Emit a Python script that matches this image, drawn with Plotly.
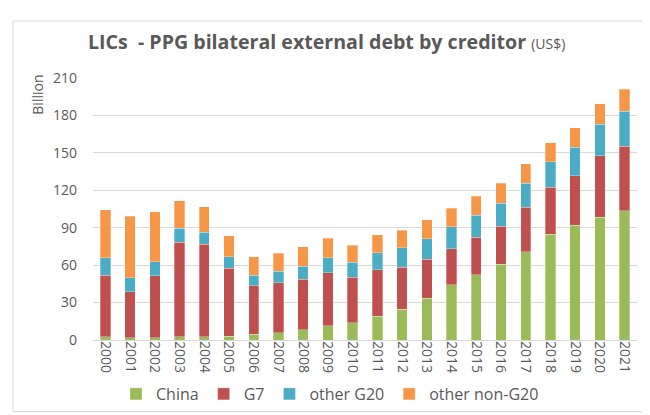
import plotly.graph_objects as go

years = [str(y) for y in range(2000, 2022)]
china = [2.6, 2, 2, 2.6, 2.6, 3.1, 4.7, 6, 8.4, 11.5, 13.9, 18.9, 24.7, 33.6, 44.4, 52.5, 60.6, 70.6, 84.8, 91.9, 98.2, 103.7]
g7 = [49.4, 36.6, 49.4, 75.9, 74.3, 54.6, 38.6, 39.7, 40.4, 42.5, 36.2, 37.5, 33.6, 31, 28.6, 29.9, 30.5, 35.7, 37.5, 39.9, 49.3, 51.4]
other_g20 = [14, 11.4, 11.3, 11, 9.5, 9, 8.7, 9.4, 10.2, 11.9, 12.1, 13.4, 15.7, 16.5, 17.6, 17.6, 18.6, 19.2, 20.7, 22.8, 25.5, 28.1]
other_non_g20 = [38.5, 49, 40.2, 22, 20.6, 17, 14.7, 14.5, 15.8, 15.7, 13.9, 14.5, 13.9, 15.2, 15.2, 15.2, 15.8, 15.7, 15.3, 15.7, 16.5, 17.6]

series = [
    ("China", china, "#9BBB59"),
    ("G7", g7, "#C0504D"),
    ("other G20", other_g20, "#4BACC6"),
    ("other non-G20", other_non_g20, "#F79646"),
]

FONT = "'Open Sans', Lato, sans-serif"
GREY = "#595959"

fig = go.Figure()
for name, vals, col in series:
    fig.add_trace(go.Bar(x=years, y=vals, name=name,
                         marker=dict(color=col, line=dict(color="rgba(255,255,255,0.6)", width=0.5))))

L, R, T, B = 85, 21, 70, 78
W, H = 650, 415
pw, ph = W - L - R, H - T - B

def px_x(x):
    return (x - L) / pw

def px_y(y):
    return (H - B - y) / ph

fig.update_layout(
    width=W, height=H,
    barmode="stack", bargap=0.58,
    margin=dict(l=L, r=R, t=T, b=B),
    paper_bgcolor="white", plot_bgcolor="white",
    font=dict(family=FONT, color=GREY, size=13),
    showlegend=True,
    legend=dict(orientation="h", x=px_x(322), xanchor="center", y=px_y(392), yanchor="middle",
                font=dict(size=16, color=GREY), traceorder="normal", itemwidth=30),
    xaxis=dict(type="category", tickangle=90, showgrid=False, showline=False,
               ticks="", tickfont=dict(size=14, color=GREY)),
    yaxis=dict(range=[0, 210], dtick=30, tick0=0, showgrid=True, gridcolor="#d9d9d9",
               gridwidth=1, zeroline=True, zerolinecolor="#d9d9d9", zerolinewidth=1,
               tickfont=dict(size=14, color=GREY), ticks="", ticklabelstandoff=15),
    shapes=[dict(type="rect", xref="paper", yref="paper",
                 x0=px_x(5), x1=px_x(641), y0=px_y(410), y1=px_y(12),
                 line=dict(color="#d9d9d9", width=1), fillcolor="rgba(0,0,0,0)", layer="below")],
    annotations=[
        dict(text="<b>LICs  - PPG bilateral external debt by creditor</b> <span style='font-size:14px'>(US$)</span>",
             xref="paper", yref="paper", x=px_x(78), y=px_y(33), xanchor="left", yanchor="middle",
             showarrow=False, font=dict(size=19.6, color=GREY, family=FONT)),
        dict(text="Billion", xref="paper", yref="paper", x=px_x(30), y=px_y(87),
             xanchor="center", yanchor="middle", textangle=-90, showarrow=False,
             font=dict(size=14, color=GREY, family=FONT)),
    ],
)

fig.write_html("out.html")
